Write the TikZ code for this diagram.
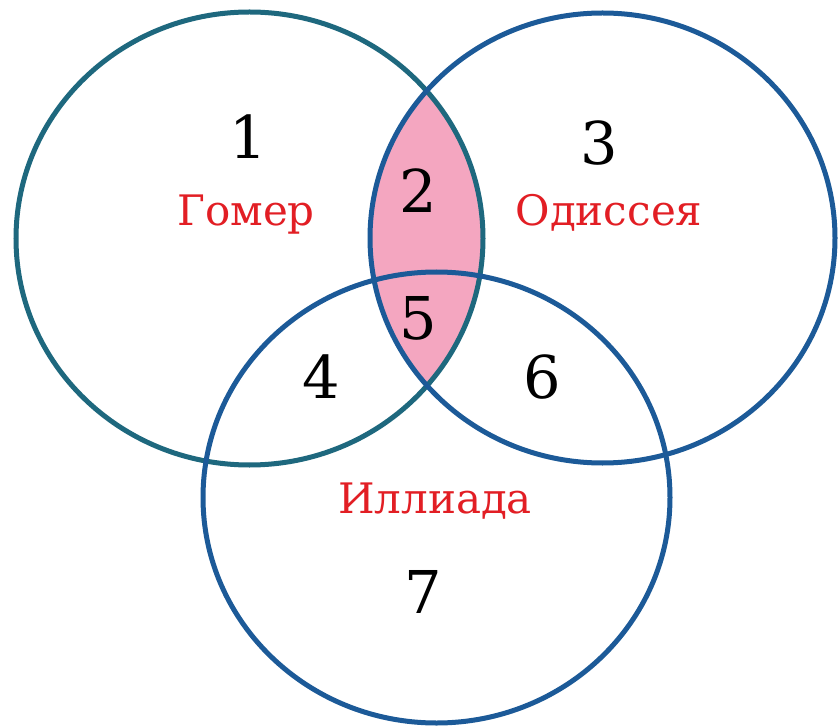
\documentclass[tikz,border=0pt]{standalone}
\usepackage{fontspec}
\newfontfamily\timesf{DejaVu Serif}
\definecolor{tealc}{RGB}{30,104,126}
\definecolor{bluec}{RGB}{28,90,152}
\definecolor{pinkc}{RGB}{244,166,192}
\definecolor{redc}{RGB}{226,30,36}
\begin{document}
\begin{tikzpicture}[x=1pt,y=-1pt,
  ring/.style={line width=5pt},
  num/.style={anchor=base,inner sep=0pt,font=\timesf\fontsize{59}{59}\selectfont,text=black},
  lbl/.style={anchor=base,inner sep=0pt,font=\timesf\fontsize{42}{42}\selectfont,text=redc}]
\useasboundingbox (0,0) rectangle (838,727);
\fill[white] (0,0) rectangle (838,727);
% pink lens
\begin{scope}
  \clip (249.5,238.5) ellipse [x radius=233.5, y radius=226.5];
  \fill[pinkc] (602.5,238) ellipse [x radius=232.5, y radius=225];
\end{scope}
\draw[ring,draw=tealc] (249.5,238.5) ellipse [x radius=233.5, y radius=226.5];
\draw[ring,draw=bluec] (602.5,238) ellipse [x radius=232.5, y radius=225];
\draw[ring,draw=bluec] (436.5,497.5) ellipse [x radius=233.5, y radius=225.5];
% labels
\node[num] (n1) at (248,159) {1};
\node[lbl] (homer) at (246,226) {Гомер};
\node[num] (n2) at (418,213) {2};
\node[num] (n3) at (599,165) {3};
\node[lbl] (odyssey) at (609,226) {Одиссея};
\node[num] (n5) at (418,340) {5};
\node[num] (n4) at (321,398) {4};
\node[num] (n6) at (542,398) {6};
\node[lbl] (iliad) at (435,513) {Иллиада};
\node[num] (n7) at (423,613) {7};
\end{tikzpicture}
\end{document}
